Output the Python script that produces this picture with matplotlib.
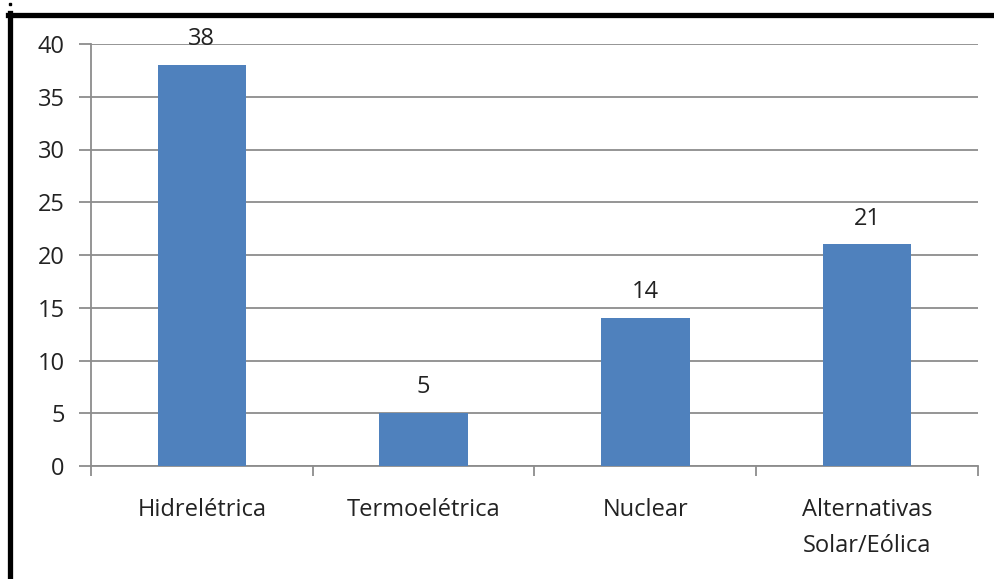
import matplotlib.pyplot as plt
from matplotlib.lines import Line2D

categorias = ['Hidrelétrica', 'Termoelétrica', 'Nuclear', 'Alternativas\nSolar/Eólica']
valores = [38, 5, 14, 21]
yticks = [0, 5, 10, 15, 20, 25, 30, 35, 40]

plt.rcParams['font.family'] = ['Open Sans', 'DejaVu Sans']

W, H = 995, 579
fig = plt.figure(figsize=(W / 100, H / 100), dpi=100)
ax = fig.add_axes([91 / W, 1 - 466 / H, (978 - 91) / W, (466 - 44) / H])

cor_eixo = '#8c8c8c'
texto = '#222222'
fs = 17

x = range(len(categorias))
bars = ax.bar(x, valores, width=0.4, color='#4f81bd', zorder=3)
for b, v in zip(bars, valores):
    ax.annotate(str(v), (b.get_x() + b.get_width() / 2, v), xytext=(0, 10),
                textcoords='offset points', ha='center', va='bottom',
                fontsize=fs, color=texto)

ax.set_xlim(-0.5, len(categorias) - 0.5)
ax.set_ylim(0, 40)
ax.set_yticks(yticks)
ax.yaxis.grid(True, color=cor_eixo, lw=1.3, zorder=0)

# categorias ficam entre os ticks
ax.set_xticks([i - 0.5 for i in range(len(categorias) + 1)])
ax.set_xticklabels([])
ax.set_xticks(list(x), minor=True)
ax.set_xticklabels(categorias, minor=True, fontsize=fs, color=texto, linespacing=1.65)
ax.tick_params(axis='x', which='minor', length=0, pad=23)
ax.tick_params(axis='x', which='major', length=7, color=cor_eixo, width=1.3)
ax.tick_params(axis='y', length=9, color=cor_eixo, width=1.3, labelsize=fs,
               labelcolor=texto, pad=10)

for s in ['top', 'right']:
    ax.spines[s].set_visible(False)
for s in ['left', 'bottom']:
    ax.spines[s].set_color(cor_eixo)
    ax.spines[s].set_linewidth(1.3)

# moldura preta do grafico
fig.add_artist(Line2D([8 / W, 1], [1 - 14.5 / H, 1 - 14.5 / H], color='black', lw=3.8))
fig.add_artist(Line2D([10 / W, 10 / W], [1 - 12.5 / H, 0], color='black', lw=3.8))
fig.add_artist(Line2D([10.5 / W], [1 - 3.5 / H], marker='s', ms=2, color='black', lw=0))

fig.savefig('out.png', dpi=100)
